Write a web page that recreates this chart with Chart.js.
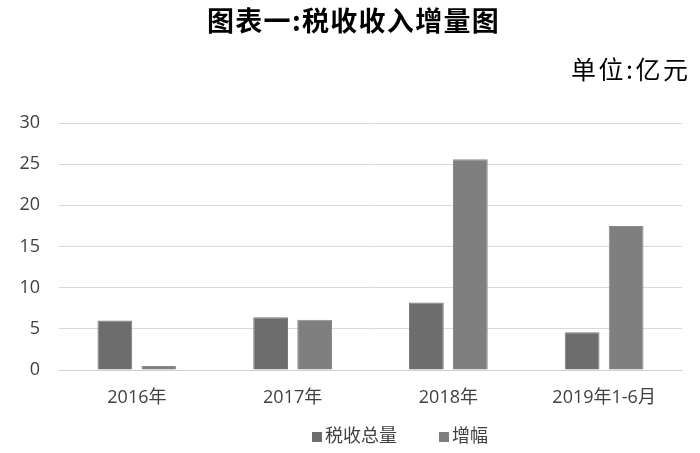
<!DOCTYPE html>
<html>
<head>
<meta charset="utf-8">
<script src="https://cdn.jsdelivr.net/npm/chart.js@4"></script>
<style>
html,body{margin:0;padding:0;background:#fff;}
#wrap{width:700px;height:453px;position:relative;}
</style>
</head>
<body>
<div id="wrap"><canvas id="c" width="700" height="453"></canvas></div>
<script>
const categories = ['2016年', '2017年', '2018年', '2019年1-6月'];
const seriesNames = ['税收总量', '增幅'];
const taxTotal = [6.0, 6.4, 8.2, 4.6];
const growth = [0.5, 6.1, 25.6, 17.5];
const yTicks = [0, 5, 10, 15, 20, 25, 30];
const titleText = '图表一:税收收入增量图';
const unitText = '单位:亿元';

const FONT = '"Open Sans", "Noto Sans CJK SC", sans-serif';

const headerPlugin = {
  id: 'header',
  afterDraw(chart) {
    const ctx = chart.ctx;
    ctx.save();
    ctx.fillStyle = '#000';
    ctx.textBaseline = 'middle';
    ctx.textAlign = 'left';
    ctx.font = 'bold 27px "Noto Sans CJK SC", sans-serif';
    ctx.letterSpacing = '1.3px';
    ctx.fillText(titleText, 207, 21);
    ctx.font = '25px "Noto Sans CJK SC", serif';
    ctx.letterSpacing = '2.5px';
    ctx.fillText(unitText, 571, 69);
    ctx.letterSpacing = '0px';
    // legend drawn from the datasets
    ctx.font = '18px ' + FONT;
    const legendX = [312, 439];
    chart.data.datasets.forEach((ds, i) => {
      const x = legendX[i], y = 437;
      ctx.fillStyle = ds.backgroundColor;
      ctx.fillRect(x, y - 5, 10, 10);
      ctx.fillStyle = '#404040';
      ctx.fillText(ds.label, x + 13, y);
    });
    ctx.restore();
  }
};

new Chart(document.getElementById('c'), {
  type: 'bar',
  data: {
    labels: categories,
    datasets: [
      { label: seriesNames[0], data: taxTotal, backgroundColor: '#6d6d6d', borderColor: '#7a7a7a', borderWidth: 1 },
      { label: seriesNames[1], data: growth, backgroundColor: '#7f7f7f', borderColor: '#8a8a8a', borderWidth: 1 }
    ]
  },
  options: {
    responsive: false,
    animation: false,
    devicePixelRatio: 1,
    layout: { padding: { top: 123, right: 18, left: 0, bottom: 43 } },
    datasets: { bar: { categoryPercentage: 0.565, barPercentage: 0.79 } },
    plugins: {
      title: { display: false },
      tooltip: { enabled: false },
      legend: { display: false }
    },
    scales: {
      x: {
        grid: { display: false, drawTicks: false },
        border: { display: true, color: '#d0d0d0' },
        ticks: { color: '#404040', padding: 17, font: { family: FONT, size: 18 }, maxRotation: 0 },
        afterFit(s) { s.height = 40; }
      },
      y: {
        min: 0, max: 30,
        afterBuildTicks(s) { s.ticks = yTicks.map(v => ({ value: v })); },
        grid: { color: '#d9d9d9', drawTicks: false, lineWidth: 1 },
        border: { display: false },
        ticks: { color: '#404040', padding: 19, font: { family: FONT, size: 18 } },
        afterFit(s) { s.width = 59; }
      }
    }
  },
  plugins: [headerPlugin]
});
</script>
</body>
</html>
